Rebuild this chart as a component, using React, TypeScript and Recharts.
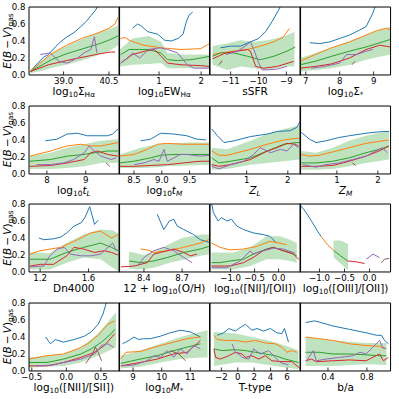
import { Area, ComposedChart, Line, XAxis, YAxis } from "recharts";

const BLUE = "#1f77b4";
const ORANGE = "#ff7f0e";
const GREEN = "#2ca02c";
const RED = "#d62728";
const PURPLE = "#9467bd";
const BROWN = "#8c564b";

const Y_TICKS = [0, 0.2, 0.4, 0.6, 0.8];
const Y_MAX = 0.8;

// log10 Sigma_Halpha
const SHA_TICKS = [39.0, 40.5];
const SHA_BLUE = [[37.95, 0.06], [38.15, 0.14], [38.34, 0.21], [38.5, 0.24], [38.73, 0.33], [38.9, 0.39], [39.12, 0.45], [39.35, 0.5], [39.57, 0.57], [39.75, 0.63], [39.91, 0.7], [40.05, 0.76], [40.15, 0.82]];
const SHA_ORANGE = [[37.9, 0.04], [38.3, 0.16], [38.6, 0.25], [39.1, 0.35], [39.6, 0.43], [40.1, 0.49], [40.5, 0.55], [40.7, 0.6], [40.8, 0.68]];
const SHA_GREEN = [[37.9, 0.04], [38.3, 0.12], [38.6, 0.18], [39.1, 0.25], [39.65, 0.31], [40.2, 0.37], [40.5, 0.41], [40.8, 0.46]];
const SHA_RED = [[37.9, 0.04], [38.5, 0.12], [39.1, 0.17], [39.65, 0.21], [40.2, 0.25], [40.55, 0.27], [40.7, 0.27]];
const SHA_PURPLE = [[38.23, 0.24], [38.56, 0.26], [38.85, 0.16], [39.12, 0.14], [39.46, 0.2], [39.68, 0.26], [39.9, 0.3], [40.02, 0.45], [40.1, 0.26]];
const SHA_BAND = [[37.9, 0.02, 0.06], [38.3, 0.05, 0.18], [38.7, 0.09, 0.27], [39.1, 0.12, 0.34], [39.6, 0.17, 0.42], [40.1, 0.23, 0.49], [40.5, 0.28, 0.54], [40.8, 0.35, 0.58]];

// log10 EW_Halpha
const EW_TICKS = [1, 2];
const EW_BLUE = [[0.37, 0.55], [0.49, 0.6], [0.57, 0.58], [0.73, 0.51], [0.97, 0.48], [1.13, 0.41], [1.29, 0.4], [1.45, 0.43], [1.57, 0.48], [1.65, 0.63], [1.72, 0.71], [1.8, 0.74]];
const EW_ORANGE = [[0.08, 0.43], [0.2, 0.44], [0.29, 0.41], [0.45, 0.38], [0.64, 0.35], [1.04, 0.32], [1.52, 0.3], [1.99, 0.31], [2.2, 0.37]];
const EW_GREEN = [[0.09, 0.24], [0.29, 0.3], [0.54, 0.3], [0.75, 0.3], [1.04, 0.26], [1.2, 0.18], [1.44, 0.17], [1.75, 0.18], [1.99, 0.2], [2.2, 0.22]];
const EW_RED = [[0.09, 0.14], [0.37, 0.24], [0.66, 0.28], [0.89, 0.3], [1.05, 0.22], [1.2, 0.14], [1.52, 0.12], [1.99, 0.11], [2.2, 0.1]];
const EW_PURPLE = [[0.09, 0.14], [0.25, 0.2], [0.37, 0.26], [0.54, 0.2], [0.75, 0.3], [1.04, 0.32], [1.2, 0.3], [1.44, 0.26], [1.67, 0.12], [1.83, 0.08], [2.2, 0.08]];
const EW_BAND = [[0.07, 0.1, 0.3], [0.37, 0.12, 0.43], [0.75, 0.13, 0.46], [1.05, 0.14, 0.39], [1.2, 0.08, 0.26], [1.6, 0.08, 0.24], [2.2, 0.08, 0.24]];

// sSFR
const SSFR_TICKS = [-11, -10, -9];
const SSFR_BLUE = [[-11.36, 0.32], [-11.0, 0.34], [-10.64, 0.34], [-10.29, 0.39], [-9.99, 0.43], [-9.75, 0.51], [-9.51, 0.63], [-9.27, 0.77], [-9.15, 0.85]];
const SSFR_ORANGE = [[-11.65, 0.24], [-11.36, 0.26], [-10.88, 0.28], [-10.4, 0.3], [-9.93, 0.34], [-9.45, 0.39], [-9.1, 0.45], [-8.93, 0.53], [-8.87, 0.55]];
const SSFR_GREEN = [[-11.65, 0.22], [-11.36, 0.26], [-10.88, 0.26], [-10.4, 0.22], [-9.93, 0.18], [-9.45, 0.22], [-8.98, 0.28], [-8.68, 0.33]];
const SSFR_RED = [[-11.65, 0.19], [-11.17, 0.26], [-10.4, 0.3], [-10.29, 0.28], [-10.1, 0.1], [-9.81, 0.08], [-9.33, 0.1], [-8.74, 0.16]];
const SSFR_PURPLE = [[-11.17, 0.24], [-10.76, 0.28], [-10.52, 0.33], [-10.29, 0.39], [-10.17, 0.3], [-9.99, 0.14], [-9.87, 0.06], [-9.69, 0.06], [-9.33, 0.07], [-8.98, 0.1]];
const SSFR_BROWN = [[-11.42, 0.12], [-11.3, 0.17]];
const SSFR_BAND = [[-11.65, 0.12, 0.34], [-11.12, 0.06, 0.37], [-10.64, 0.1, 0.41], [-10.17, 0.08, 0.39], [-9.69, 0.06, 0.41], [-9.1, 0.1, 0.45], [-8.71, 0.1, 0.51]];

// log10 Sigma_*
const SIG_TICKS = [7, 8, 9];
const SIG_BLUE = [[7.12, 0.38], [7.41, 0.37], [7.71, 0.39], [8.0, 0.43], [8.29, 0.47], [8.59, 0.53], [8.78, 0.57], [8.98, 0.73], [9.08, 0.85]];
const SIG_ORANGE = [[6.83, 0.16], [7.27, 0.24], [7.76, 0.32], [8.29, 0.39], [8.78, 0.47], [9.08, 0.52], [9.37, 0.55], [9.5, 0.53]];
const SIG_GREEN = [[6.83, 0.12], [7.27, 0.16], [7.76, 0.22], [8.29, 0.28], [8.78, 0.33], [9.27, 0.39], [9.5, 0.42]];
const SIG_RED = [[6.83, 0.08], [7.27, 0.1], [7.76, 0.13], [8.29, 0.2], [8.78, 0.3], [9.18, 0.35], [9.5, 0.33]];
const SIG_PURPLE = [[7.16, 0.08], [7.55, 0.1], [8.0, 0.14], [8.2, 0.24], [8.49, 0.24], [8.78, 0.28], [8.98, 0.3]];
const SIG_BROWN = [[8.36, 0.12], [8.45, 0.16]];
const SIG_BAND = [[6.83, 0.04, 0.2], [7.3, 0.06, 0.26], [7.76, 0.08, 0.32], [8.3, 0.12, 0.4], [8.78, 0.18, 0.47], [9.1, 0.21, 0.52], [9.5, 0.24, 0.57]];

// log10 t_L
const TL_TICKS = [8, 9];
const TL_BLUE = [[7.96, 0.39], [8.26, 0.41], [8.52, 0.47], [8.78, 0.48], [9.04, 0.45], [9.3, 0.45], [9.56, 0.45], [9.69, 0.47], [9.83, 0.53]];
const TL_ORANGE = [[7.56, 0.21], [8.09, 0.27], [8.52, 0.33], [8.87, 0.35], [9.13, 0.33], [9.39, 0.33], [9.83, 0.37]];
const TL_GREEN = [[7.56, 0.15], [8.09, 0.17], [8.52, 0.21], [8.96, 0.23], [9.22, 0.25], [9.56, 0.27], [9.83, 0.27]];
const TL_RED = [[7.56, 0.09], [8.09, 0.1], [8.52, 0.13], [8.96, 0.17], [9.13, 0.25], [9.3, 0.27], [9.56, 0.23], [9.83, 0.21]];
const TL_PURPLE = [[7.74, 0.11], [8.09, 0.11], [8.43, 0.13], [8.69, 0.17], [8.96, 0.25], [9.09, 0.33], [9.22, 0.27], [9.39, 0.21], [9.65, 0.17], [9.78, 0.19]];
const TL_BROWN = [[9.52, 0.13], [9.62, 0.09]];
const TL_BAND = [[7.56, 0.06, 0.21], [8.09, 0.06, 0.25], [8.52, 0.07, 0.31], [8.96, 0.09, 0.35], [9.39, 0.13, 0.39], [9.83, 0.13, 0.41]];

// log10 t_M
const TM_TICKS = [8.5, 9.0, 9.5];
const TM_BLUE = [[8.62, 0.39], [8.8, 0.41], [8.98, 0.48], [9.22, 0.47], [9.45, 0.45], [9.63, 0.41], [9.8, 0.4]];
const TM_ORANGE = [[8.24, 0.21], [8.5, 0.23], [8.74, 0.29], [8.92, 0.35], [9.1, 0.36], [9.39, 0.35], [9.69, 0.35], [9.86, 0.35]];
const TM_GREEN = [[8.24, 0.13], [8.5, 0.15], [8.8, 0.19], [8.98, 0.22], [9.22, 0.23], [9.69, 0.23], [9.86, 0.23]];
const TM_RED = [[8.24, 0.09], [8.5, 0.09], [8.8, 0.1], [9.1, 0.11], [9.39, 0.13], [9.69, 0.15], [9.86, 0.15]];
const TM_PURPLE = [[8.5, 0.11], [8.68, 0.13], [8.86, 0.17], [8.95, 0.15], [9.04, 0.29], [9.1, 0.15], [9.22, 0.19], [9.33, 0.23], [9.45, 0.23], [9.69, 0.21], [9.86, 0.22]];
const TM_BAND = [[8.24, 0.07, 0.23], [8.62, 0.07, 0.31], [8.92, 0.08, 0.35], [9.1, 0.09, 0.36], [9.5, 0.1, 0.37], [9.86, 0.11, 0.37]];

// Z_L
const ZL_TICKS = [1, 2];
const ZL_BLUE = [[0.15, 0.53], [0.29, 0.45], [0.45, 0.37], [0.69, 0.39], [1.09, 0.44], [1.5, 0.47], [1.74, 0.5], [2.06, 0.51], [2.22, 0.55], [2.29, 0.61]];
const ZL_ORANGE = [[0.15, 0.27], [0.33, 0.22], [0.53, 0.22], [1.09, 0.29], [1.5, 0.35], [1.9, 0.4], [2.22, 0.42], [2.29, 0.42]];
const ZL_GREEN = [[0.15, 0.19], [0.33, 0.13], [0.61, 0.15], [1.09, 0.19], [1.5, 0.27], [1.9, 0.35], [2.22, 0.37], [2.29, 0.37]];
const ZL_RED = [[0.15, 0.11], [0.33, 0.09], [0.61, 0.11], [1.09, 0.17], [1.5, 0.27], [1.74, 0.31], [1.98, 0.36], [2.18, 0.35], [2.26, 0.33]];
const ZL_PURPLE = [[0.15, 0.09], [0.33, 0.06], [0.61, 0.11], [0.93, 0.15], [1.17, 0.23], [1.33, 0.31], [1.58, 0.25], [1.82, 0.29], [1.98, 0.27], [2.14, 0.35], [2.26, 0.31]];
const ZL_BAND = [[0.15, 0.05, 0.31], [0.53, 0.06, 0.29], [1.09, 0.11, 0.39], [1.5, 0.13, 0.47], [1.9, 0.15, 0.53], [2.29, 0.17, 0.57]];

// Z_M
const ZM_TICKS = [1, 2];
const ZM_BLUE = [[0.13, 0.49], [0.33, 0.41], [0.49, 0.37], [0.73, 0.39], [1.06, 0.43], [1.3, 0.45], [1.71, 0.48], [2.11, 0.5], [2.27, 0.5]];
const ZM_ORANGE = [[0.13, 0.23], [0.33, 0.21], [0.57, 0.22], [0.9, 0.26], [1.3, 0.31], [1.71, 0.36], [2.11, 0.39], [2.27, 0.4]];
const ZM_GREEN = [[0.13, 0.13], [0.49, 0.13], [0.9, 0.15], [1.3, 0.19], [1.71, 0.25], [2.11, 0.3], [2.27, 0.33]];
const ZM_RED = [[0.13, 0.09], [0.49, 0.09], [0.9, 0.1], [1.3, 0.15], [1.71, 0.21], [2.03, 0.27], [2.27, 0.33]];
const ZM_PURPLE = [[0.17, 0.11], [0.49, 0.08], [0.73, 0.11], [1.06, 0.13], [1.38, 0.17], [1.71, 0.21], [1.95, 0.27], [2.11, 0.31], [2.23, 0.25]];
const ZM_BROWN = [[1.38, 0.13], [1.46, 0.1]];
const ZM_BAND = [[0.13, 0.05, 0.27], [0.49, 0.05, 0.25], [0.9, 0.06, 0.31], [1.3, 0.09, 0.39], [1.71, 0.13, 0.45], [2.27, 0.17, 0.51]];

// Dn4000
const DN_TICKS = [1.2, 1.6];
const DN_BLUE = [[1.19, 0.4], [1.23, 0.38], [1.31, 0.39], [1.37, 0.41], [1.42, 0.46], [1.48, 0.54], [1.54, 0.58], [1.57, 0.64], [1.61, 0.77], [1.65, 0.56], [1.68, 0.61]];
const DN_ORANGE = [[1.116, 0.21], [1.2, 0.25], [1.37, 0.29], [1.51, 0.38], [1.62, 0.46], [1.7, 0.48], [1.79, 0.4], [1.844, 0.44]];
const DN_GREEN = [[1.116, 0.15], [1.28, 0.15], [1.42, 0.23], [1.56, 0.29], [1.7, 0.34], [1.79, 0.29], [1.844, 0.25]];
const DN_RED = [[1.116, 0.07], [1.2, 0.09], [1.31, 0.09], [1.42, 0.19], [1.48, 0.29], [1.56, 0.27], [1.65, 0.23], [1.73, 0.25], [1.79, 0.23], [1.844, 0.2]];
const DN_PURPLE = [[1.116, 0.06], [1.23, 0.07], [1.28, 0.19], [1.34, 0.27], [1.4, 0.29], [1.45, 0.21], [1.54, 0.19], [1.62, 0.19], [1.7, 0.21], [1.8, 0.34], [1.83, 0.25]];
const DN_BAND = [[1.116, 0.03, 0.23], [1.28, 0.03, 0.22], [1.42, 0.11, 0.34], [1.56, 0.17, 0.44], [1.7, 0.15, 0.5], [1.8, 0.05, 0.49], [1.85, 0.01, 0.45]];

// 12 + log10(O/H)
const OH_TICKS = [8.4, 8.7];
const OH_BLUE = [[8.504, 0.68], [8.556, 0.5], [8.6, 0.6], [8.635, 0.62], [8.661, 0.54], [8.713, 0.5], [8.791, 0.44], [8.843, 0.38], [8.91, 0.35]];
const OH_ORANGE = [[8.374, 0.27], [8.426, 0.26], [8.478, 0.23], [8.583, 0.25], [8.713, 0.29], [8.843, 0.34], [8.91, 0.38]];
const OH_GREEN = [[8.283, 0.13], [8.374, 0.11], [8.478, 0.13], [8.583, 0.17], [8.713, 0.23], [8.843, 0.27], [8.91, 0.3]];
const OH_RED = [[8.218, 0.06], [8.322, 0.07], [8.426, 0.11], [8.478, 0.21], [8.53, 0.23], [8.635, 0.27], [8.713, 0.23], [8.765, 0.19], [8.817, 0.21]];
const OH_PURPLE = [[8.348, 0.07], [8.4, 0.17], [8.478, 0.25], [8.556, 0.29], [8.635, 0.25], [8.713, 0.17], [8.778, 0.11]];
const OH_BAND = [[8.283, 0.04, 0.24], [8.4, 0.03, 0.2], [8.5, 0.06, 0.25], [8.6, 0.11, 0.33], [8.7, 0.14, 0.4], [8.843, 0.19, 0.44], [8.916, 0.21, 0.44]];

// log10([NII]/[OII])
const N2O2_TICKS = [-1.0, -0.5, 0.0];
const N2O2_BLUE = [[-1.41, 0.85], [-1.36, 0.7], [-1.26, 0.6], [-1.19, 0.64], [-1.08, 0.6], [-0.98, 0.62], [-0.87, 0.54], [-0.73, 0.5], [-0.53, 0.46], [-0.32, 0.44], [-0.18, 0.42], [-0.04, 0.34]];
const N2O2_ORANGE = [[-1.4, 0.34], [-1.22, 0.29], [-1.01, 0.26], [-0.73, 0.27], [-0.46, 0.3], [-0.18, 0.36], [0.03, 0.34], [0.17, 0.32]];
const N2O2_GREEN = [[-1.4, 0.11], [-1.22, 0.11], [-1.01, 0.13], [-0.73, 0.15], [-0.53, 0.21], [-0.25, 0.27], [-0.11, 0.29], [0.1, 0.25], [0.24, 0.23], [0.38, 0.19]];
const N2O2_RED = [[-1.4, 0.07], [-1.01, 0.07], [-0.73, 0.11], [-0.53, 0.17], [-0.32, 0.25], [-0.11, 0.29], [0.1, 0.25], [0.31, 0.21], [0.42, 0.15]];
const N2O2_PURPLE = [[-1.4, 0.05], [-1.08, 0.05], [-0.8, 0.13], [-0.59, 0.25], [-0.53, 0.21], [-0.32, 0.25], [-0.11, 0.28], [0.1, 0.27], [0.35, 0.22]];
const N2O2_BAND = [[-1.4, 0.03, 0.23], [-0.94, 0.03, 0.23], [-0.59, 0.07, 0.29], [-0.25, 0.15, 0.42], [0.03, 0.15, 0.42], [0.24, 0.13, 0.38], [0.38, 0.11, 0.34]];

// log10([OIII]/[OII])
const O3O2_TICKS = [-1.0, -0.5, 0.0];
const O3O2_BLUE = [[-1.37, 0.78], [-1.27, 0.7], [-1.14, 0.58], [-1.04, 0.48], [-0.97, 0.42]];
const O3O2_ORANGE = [[-0.97, 0.42], [-0.84, 0.32], [-0.71, 0.25]];
const O3O2_GREEN = [[-0.71, 0.25], [-0.58, 0.19], [-0.44, 0.13]];
const O3O2_RED = [[-0.44, 0.13], [-0.27, 0.12], [-0.1, 0.1]];
const O3O2_PURPLE = [[-0.07, 0.15], [0.07, 0.21], [0.2, 0.17]];
const O3O2_BROWN = [[0.23, 0.11], [0.3, 0.15], [0.39, 0.16]];
const O3O2_BAND = [[-0.72, 0.17, 0.37], [-0.58, 0.1, 0.37], [-0.43, 0.02, 0.33]];

// log10([NII]/[SII])
const N2S2_TICKS = [-0.5, 0.0, 0.5];
const N2S2_BLUE = [[-0.3, 0.4], [-0.23, 0.32], [-0.16, 0.37], [-0.04, 0.34], [0.11, 0.37], [0.26, 0.41], [0.36, 0.46], [0.46, 0.55], [0.53, 0.67], [0.58, 0.81]];
const N2S2_ORANGE = [[-0.54, 0.14], [-0.28, 0.18], [-0.04, 0.2], [0.16, 0.26], [0.31, 0.32], [0.46, 0.42], [0.6, 0.55], [0.7, 0.59]];
const N2S2_GREEN = [[-0.54, 0.1], [-0.28, 0.1], [-0.04, 0.14], [0.21, 0.2], [0.36, 0.26], [0.51, 0.34], [0.65, 0.44], [0.7, 0.49]];
const N2S2_RED = [[-0.54, 0.06], [-0.28, 0.06], [-0.04, 0.1], [0.21, 0.16], [0.41, 0.22], [0.55, 0.3], [0.7, 0.44]];
const N2S2_PURPLE = [[-0.44, 0.06], [-0.2, 0.07], [-0.04, 0.1], [0.21, 0.14], [0.41, 0.2], [0.51, 0.3], [0.6, 0.32], [0.68, 0.28]];
const N2S2_BROWN = [[0.28, 0.09], [0.38, 0.2], [0.42, 0.28], [0.46, 0.22], [0.51, 0.12]];
const N2S2_BAND = [[-0.54, 0.04, 0.16], [-0.04, 0.06, 0.2], [0.21, 0.1, 0.28], [0.46, 0.18, 0.44], [0.72, 0.28, 0.69]];

// log10 M_*
const MS_TICKS = [9, 10, 11];
const MS_BLUE = [[8.63, 0.32], [8.86, 0.36], [9.03, 0.4], [9.2, 0.37], [9.37, 0.38], [9.6, 0.38], [9.96, 0.41], [10.3, 0.45], [10.65, 0.48], [11.0, 0.46], [11.35, 0.4]];
const MS_ORANGE = [[8.57, 0.14], [8.75, 0.22], [9.25, 0.23], [9.84, 0.29], [10.42, 0.34], [10.88, 0.38], [11.35, 0.4]];
const MS_GREEN = [[8.57, 0.09], [9.25, 0.14], [9.84, 0.18], [10.42, 0.24], [10.88, 0.28], [11.35, 0.32]];
const MS_RED = [[8.57, 0.06], [9.25, 0.1], [9.84, 0.14], [10.42, 0.2], [10.88, 0.22], [11.23, 0.32], [11.35, 0.36]];
const MS_PURPLE = [[8.63, 0.06], [9.03, 0.07], [9.48, 0.12], [9.73, 0.18], [9.96, 0.16], [10.19, 0.24], [10.42, 0.16], [10.65, 0.26], [10.88, 0.2], [11.12, 0.3], [11.35, 0.26]];
const MS_BROWN = [[10.3, 0.24], [10.6, 0.2], [10.83, 0.12]];
const MS_BAND = [[8.57, 0.03, 0.18], [9.25, 0.05, 0.24], [9.96, 0.1, 0.32], [10.65, 0.14, 0.4], [11.35, 0.16, 0.46], [11.6, 0.16, 0.48]];

// T-type
const TT_TICKS = [-2, 0, 2, 4, 6];
const TT_BLUE = [[-2.51, 0.42], [-1.7, 0.45], [-1.09, 0.5], [-0.29, 0.47], [0.12, 0.5], [0.93, 0.55], [1.73, 0.48], [2.34, 0.5], [3.15, 0.47], [3.96, 0.5], [4.76, 0.45], [5.37, 0.44], [5.69, 0.5], [6.18, 0.34]];
const TT_ORANGE = [[-2.91, 0.42], [-2.51, 0.37], [-1.5, 0.36], [-0.29, 0.36], [0.93, 0.34], [2.14, 0.36], [3.35, 0.33], [4.56, 0.32], [5.37, 0.28], [5.98, 0.22], [6.58, 0.24], [7.19, 0.22]];
const TT_GREEN = [[-2.91, 0.26], [-1.9, 0.24], [-0.29, 0.25], [0.93, 0.24], [2.14, 0.22], [3.35, 0.2], [4.56, 0.18], [5.78, 0.14], [7.4, 0.1]];
const TT_RED = [[-2.91, 0.26], [-2.7, 0.16], [-2.1, 0.14], [-1.09, 0.18], [-0.29, 0.22], [0.52, 0.2], [0.93, 0.16], [1.73, 0.18], [2.55, 0.14], [3.35, 0.18], [4.16, 0.12], [5.37, 0.11], [6.58, 0.11], [7.6, 0.03]];
const TT_PURPLE = [[-0.7, 0.32], [-0.29, 0.22], [0.12, 0.2], [0.52, 0.16], [1.33, 0.14], [1.94, 0.26], [2.75, 0.2], [3.76, 0.24], [4.56, 0.16], [5.17, 0.1], [6.18, 0.07]];
const TT_BAND = [[-2.91, 0.06, 0.46], [-0.29, 0.1, 0.44], [1.73, 0.1, 0.4], [3.76, 0.07, 0.36], [5.78, 0.04, 0.3], [7.4, 0.02, 0.24]];

// b/a
const BA_TICKS = [0.4, 0.8];
const BA_BLUE = [[0.17, 0.57], [0.26, 0.59], [0.33, 0.57], [0.45, 0.53], [0.62, 0.49], [0.79, 0.45], [0.9, 0.42], [0.95, 0.42], [0.98, 0.36], [1.02, 0.32]];
const BA_ORANGE = [[0.17, 0.4], [0.31, 0.38], [0.45, 0.36], [0.62, 0.32], [0.79, 0.3], [0.93, 0.29], [0.98, 0.26]];
const BA_GREEN = [[0.17, 0.22], [0.31, 0.22], [0.45, 0.2], [0.62, 0.2], [0.79, 0.19], [0.93, 0.18], [1.0, 0.18]];
const BA_RED = [[0.17, 0.12], [0.23, 0.14], [0.28, 0.11], [0.45, 0.12], [0.62, 0.13], [0.79, 0.12], [0.93, 0.2], [0.97, 0.12], [1.02, 0.16]];
const BA_PURPLE = [[0.18, 0.12], [0.25, 0.24], [0.28, 0.12], [0.38, 0.14], [0.52, 0.16], [0.66, 0.18], [0.73, 0.22], [0.79, 0.2], [0.86, 0.28], [0.93, 0.36], [0.96, 0.28], [1.0, 0.26]];
const BA_BAND = [[0.17, 0.06, 0.4], [0.45, 0.06, 0.36], [0.79, 0.08, 0.33], [1.0, 0.07, 0.33]];

const Sub = ({ children }: { children: any }) => (
  <sub style={{ fontSize: "70%", verticalAlign: "-0.3em", lineHeight: 0 }}>{children}</sub>
);

const PANELS = [
  { dom: [37.86, 40.85], ticks: SHA_TICKS, dec: 1, minor: 0.3, band: SHA_BAND,
    lines: [[BLUE, SHA_BLUE], [ORANGE, SHA_ORANGE], [GREEN, SHA_GREEN], [RED, SHA_RED], [PURPLE, SHA_PURPLE]],
    label: <>log<Sub>10</Sub>Σ<Sub>Hα</Sub></> },
  { dom: [0.05, 2.2], ticks: EW_TICKS, dec: 0, minor: 0.2, band: EW_BAND,
    lines: [[BLUE, EW_BLUE], [ORANGE, EW_ORANGE], [GREEN, EW_GREEN], [RED, EW_RED], [PURPLE, EW_PURPLE]],
    label: <>log<Sub>10</Sub>EW<Sub>Hα</Sub></> },
  { dom: [-11.74, -8.49], ticks: SSFR_TICKS, dec: 0, minor: 0.2, band: SSFR_BAND,
    lines: [[BLUE, SSFR_BLUE], [ORANGE, SSFR_ORANGE], [GREEN, SSFR_GREEN], [RED, SSFR_RED], [PURPLE, SSFR_PURPLE], [BROWN, SSFR_BROWN]],
    label: <>sSFR</> },
  { dom: [6.83, 9.5], ticks: SIG_TICKS, dec: 0, minor: 0.2, band: SIG_BAND,
    lines: [[BLUE, SIG_BLUE], [ORANGE, SIG_ORANGE], [GREEN, SIG_GREEN], [RED, SIG_RED], [PURPLE, SIG_PURPLE], [BROWN, SIG_BROWN]],
    label: <>log<Sub>10</Sub>Σ<Sub>*</Sub></> },
  { dom: [7.54, 9.87], ticks: TL_TICKS, dec: 0, minor: 0.2, band: TL_BAND,
    lines: [[BLUE, TL_BLUE], [ORANGE, TL_ORANGE], [GREEN, TL_GREEN], [RED, TL_RED], [PURPLE, TL_PURPLE], [BROWN, TL_BROWN]],
    label: <>log<Sub>10</Sub><i>t</i><Sub><i>L</i></Sub></> },
  { dom: [8.23, 9.86], ticks: TM_TICKS, dec: 1, minor: 0.1, band: TM_BAND,
    lines: [[BLUE, TM_BLUE], [ORANGE, TM_ORANGE], [GREEN, TM_GREEN], [RED, TM_RED], [PURPLE, TM_PURPLE]],
    label: <>log<Sub>10</Sub><i>t</i><Sub><i>M</i></Sub></> },
  { dom: [0.11, 2.31], ticks: ZL_TICKS, dec: 0, minor: 0.2, band: ZL_BAND,
    lines: [[BLUE, ZL_BLUE], [ORANGE, ZL_ORANGE], [GREEN, ZL_GREEN], [RED, ZL_RED], [PURPLE, ZL_PURPLE]],
    label: <><i>Z</i><Sub><i>L</i></Sub></> },
  { dom: [0.1, 2.31], ticks: ZM_TICKS, dec: 0, minor: 0.2, band: ZM_BAND,
    lines: [[BLUE, ZM_BLUE], [ORANGE, ZM_ORANGE], [GREEN, ZM_GREEN], [RED, ZM_RED], [PURPLE, ZM_PURPLE], [BROWN, ZM_BROWN]],
    label: <><i>Z</i><Sub><i>M</i></Sub></> },
  { dom: [1.108, 1.857], ticks: DN_TICKS, dec: 1, minor: 0.1, band: DN_BAND,
    lines: [[BLUE, DN_BLUE], [ORANGE, DN_ORANGE], [GREEN, DN_GREEN], [RED, DN_RED], [PURPLE, DN_PURPLE]],
    label: <>Dn4000</> },
  { dom: [8.204, 8.916], ticks: OH_TICKS, dec: 1, minor: 0.075, band: OH_BAND,
    lines: [[BLUE, OH_BLUE], [ORANGE, OH_ORANGE], [GREEN, OH_GREEN], [RED, OH_RED], [PURPLE, OH_PURPLE]],
    label: <>12 + log<Sub>10</Sub>(O/H)</> },
  { dom: [-1.43, 0.46], ticks: N2O2_TICKS, dec: 1, minor: 0.1, band: N2O2_BAND,
    lines: [[BLUE, N2O2_BLUE], [ORANGE, N2O2_ORANGE], [GREEN, N2O2_GREEN], [RED, N2O2_RED], [PURPLE, N2O2_PURPLE]],
    label: <>log<Sub>10</Sub>([NII]/[OII])</> },
  { dom: [-1.39, 0.42], ticks: O3O2_TICKS, dec: 1, minor: 0.1, band: O3O2_BAND,
    lines: [[BLUE, O3O2_BLUE], [ORANGE, O3O2_ORANGE], [GREEN, O3O2_GREEN], [RED, O3O2_RED], [PURPLE, O3O2_PURPLE], [BROWN, O3O2_BROWN]],
    label: <>log<Sub>10</Sub>([OIII]/[OII])</> },
  { dom: [-0.54, 0.77], ticks: N2S2_TICKS, dec: 1, minor: 0.1, band: N2S2_BAND,
    lines: [[BLUE, N2S2_BLUE], [ORANGE, N2S2_ORANGE], [GREEN, N2S2_GREEN], [RED, N2S2_RED], [PURPLE, N2S2_PURPLE], [BROWN, N2S2_BROWN]],
    label: <>log<Sub>10</Sub>([NII]/[SII])</> },
  { dom: [8.51, 11.67], ticks: MS_TICKS, dec: 0, minor: 0.2, band: MS_BAND,
    lines: [[BLUE, MS_BLUE], [ORANGE, MS_ORANGE], [GREEN, MS_GREEN], [RED, MS_RED], [PURPLE, MS_PURPLE], [BROWN, MS_BROWN]],
    label: <>log<Sub>10</Sub><i>M</i><Sub>*</Sub></> },
  { dom: [-3.38, 7.65], ticks: TT_TICKS, dec: 0, minor: 0.5, band: TT_BAND,
    lines: [[BLUE, TT_BLUE], [ORANGE, TT_ORANGE], [GREEN, TT_GREEN], [RED, TT_RED], [PURPLE, TT_PURPLE]],
    label: <>T-type</> },
  { dom: [0.113, 1.043], ticks: BA_TICKS, dec: 1, minor: 0.1, band: BA_BAND,
    lines: [[BLUE, BA_BLUE], [ORANGE, BA_ORANGE], [GREEN, BA_GREEN], [RED, BA_RED], [PURPLE, BA_PURPLE]],
    label: <>b/a</> },
];

const PW = 90.6;
const PH = 68;
const COL_X = [28.5, 28.5 + PW, 28.5 + 2 * PW, 28.5 + 3 * PW];
const ROW_Y = [7, 105.5, 204, 302.5];
const PL = 32;
const PR = 14;
const PT = 4;
const PB = 18;
// axes need a size above zero to be drawn; keep it tiny so stacked axes sit on the frame
const THIN = 0.01;

const TICK_FONT = { fontSize: 8.6, fill: "#000", fontFamily: "DejaVu Sans" };
const TICK_LINE = { stroke: "#000", strokeWidth: 0.8 };
const AXIS_LINE = { stroke: "#000", strokeWidth: 1 };

function minorTicks(dom: number[], anchor: number, step: number) {
  const out: number[] = [];
  let v = anchor - Math.floor((anchor - dom[0]) / step + 1e-9) * step;
  for (; v <= dom[1] + 1e-9; v += step) out.push(Number(v.toFixed(4)));
  return out;
}

const fmt = (dec: number) => (v: number) =>
  (v < 0 ? "\u2212" : "") + Math.abs(v).toFixed(dec);

const toPts = (arr: number[][]) => arr.map(([x, y]) => ({ x, y }));
const toBand = (arr: number[][]) => arr.map(([x, lo, hi]) => ({ x, r: [lo, hi] }));

function PanelChart({ p, col, row }: { p: any; col: number; row: number }) {
  const xMinor = minorTicks(p.dom, p.ticks[0], p.minor);
  const yMinor = minorTicks([0, Y_MAX], 0, 0.05);
  const xCommon = { type: "number" as const, domain: p.dom, allowDataOverflow: true, interval: 0 as const, height: THIN };
  const yCommon = { type: "number" as const, domain: [0, Y_MAX], allowDataOverflow: true, interval: 0 as const, width: THIN };
  return (
    <div style={{ position: "absolute", left: COL_X[col] - PL, top: ROW_Y[row] - PT }}>
      <ComposedChart
        width={PW + PL + PR}
        height={PH + PT + PB}
        margin={{ left: PL, right: PR, top: PT, bottom: PB }}
      >
        <XAxis xAxisId="xm" {...xCommon} ticks={xMinor} tick={false} axisLine={false} tickLine={TICK_LINE} tickSize={-2} />
        <XAxis xAxisId="x" {...xCommon} dataKey="x" ticks={p.ticks} tick={TICK_FONT} tickFormatter={fmt(p.dec)} axisLine={AXIS_LINE} tickLine={TICK_LINE} tickSize={-3.5} tickMargin={6.5} />
        <XAxis xAxisId="xtm" orientation="top" {...xCommon} ticks={xMinor} tick={false} axisLine={false} tickLine={TICK_LINE} tickSize={-2} />
        <XAxis xAxisId="xt" orientation="top" {...xCommon} ticks={p.ticks} tick={false} axisLine={AXIS_LINE} tickLine={TICK_LINE} tickSize={-3.5} />
        <YAxis yAxisId="ym" {...yCommon} ticks={yMinor} tick={false} axisLine={false} tickLine={TICK_LINE} tickSize={-2} />
        <YAxis yAxisId="y" {...yCommon} ticks={Y_TICKS} tick={false} axisLine={AXIS_LINE} tickLine={TICK_LINE} tickSize={-3.5} />
        <YAxis yAxisId="yrm" orientation="right" {...yCommon} ticks={yMinor} tick={false} axisLine={false} tickLine={TICK_LINE} tickSize={-2} />
        <YAxis yAxisId="yr" orientation="right" {...yCommon} ticks={Y_TICKS} tick={false} axisLine={AXIS_LINE} tickLine={TICK_LINE} tickSize={-3.5} />
        <Area
          xAxisId="x"
          yAxisId="y"
          data={toBand(p.band)}
          dataKey="r"
          type="linear"
          stroke="none"
          fill={GREEN}
          fillOpacity={0.3}
          isAnimationActive={false}
        />
        {p.lines.map(([color, arr]: [string, number[][]], i: number) => (
          <Line
            key={i}
            xAxisId="x"
            yAxisId="y"
            data={toPts(arr)}
            dataKey="y"
            type="linear"
            stroke={color}
            strokeWidth={1}
            dot={false}
            isAnimationActive={false}
          />
        ))}
      </ComposedChart>
    </div>
  );
}

export default function App() {
  return (
    <div
      style={{
        position: "absolute",
        left: 0,
        top: 0,
        width: 399,
        height: 399,
        background: "#fff",
        fontFamily: "DejaVu Sans",
        color: "#000",
      }}
    >
      {PANELS.map((p, i) => (
        <PanelChart key={i} p={p} col={i % 4} row={Math.floor(i / 4)} />
      ))}
      {PANELS.map((p, i) => (
        <div
          key={"xl" + i}
          style={{
            position: "absolute",
            left: COL_X[i % 4] + PW / 2,
            top: ROW_Y[Math.floor(i / 4)] + PH + 11,
            transform: "translateX(-50%)",
            fontSize: 10.5,
            lineHeight: 1,
            whiteSpace: "nowrap",
          }}
        >
          {p.label}
        </div>
      ))}
      <svg width={399} height={399} style={{ position: "absolute", left: 0, top: 0, pointerEvents: "none" }}>
        {ROW_Y.map((y, r) => (
          <g key={r}>
            <text
              transform={`translate(10.5, ${y + PH / 2}) rotate(-90)`}
              textAnchor="middle"
              fontSize={10.5}
              fontFamily="DejaVu Sans"
              fill="#000"
            >
              <tspan fontStyle="italic">E</tspan>(<tspan fontStyle="italic">B</tspan>{"\u2009\u2212\u2009"}<tspan fontStyle="italic">V</tspan>)<tspan fontSize={7.5} dy={2.5}>gas</tspan>
            </text>
            {/* y tick labels of the first column, same linear 0..0.8 scale as the panels */}
            {Y_TICKS.map((v) => (
              <text
                key={v}
                x={COL_X[0] - 3}
                y={y + PH * (1 - v / Y_MAX)}
                textAnchor="end"
                dominantBaseline="central"
                fontSize={8.6}
                fontFamily="DejaVu Sans"
                fill="#000"
              >
                {v.toFixed(1)}
              </text>
            ))}
          </g>
        ))}
      </svg>
    </div>
  );
}
